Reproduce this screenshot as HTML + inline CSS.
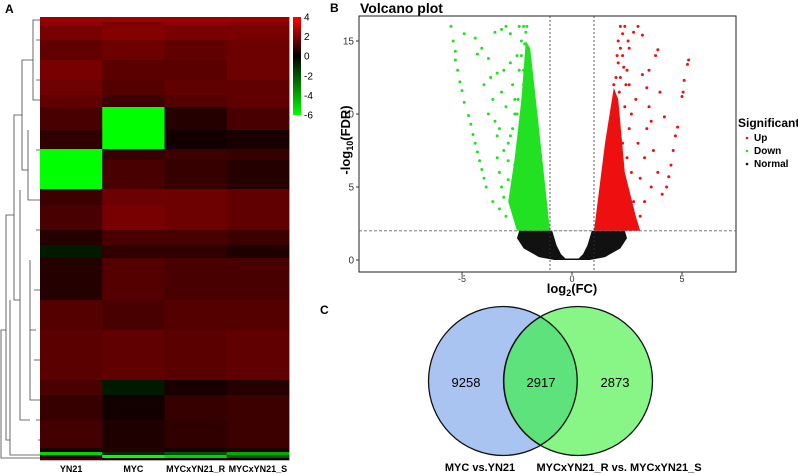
<!DOCTYPE html>
<html><head><meta charset="utf-8"><style>
body{margin:0;background:#fff;width:798px;height:475px;overflow:hidden;font-family:"Liberation Sans",Arial,sans-serif}
svg{display:block}
text{font-family:"Liberation Sans",Arial,sans-serif}
</style></head><body>
<svg id="fig" width="798" height="475" viewBox="0 0 798 475">
<g id="heat"></g>
<g id="dendro" stroke="#444" stroke-width="0.8" fill="none">
<path d="M40 20H33V100H40M33 60H22V170H28M28 130V200H40M22 115H14V300H20M20 190V420H30M30 260V400H40M30 330H36M14 215H6V440H10M10 300V455H40M6 330H1V458H40M36 40H40M36 80H40M36 150H40M36 230H40M34 290H40M34 360H40M36 420H40M38 440H40"/>
</g>
<g id="hlegend"></g>
<g id="volcano"></g>
<g id="venn">
<circle cx="503" cy="381" r="74.5" fill="#a9c4f0" stroke="#111" stroke-width="1.3"/>
<circle cx="578" cy="381" r="74.5" fill="#7ef57e" fill-opacity="0.93" stroke="#111" stroke-width="1.3"/>
<path d="M540.5 316.8 A74.5 74.5 0 0 1 540.5 445.2 A74.5 74.5 0 0 1 540.5 316.8Z" fill="#5ee37c" stroke="#111" stroke-width="1.3"/>
<text x="466" y="387" font-family="Liberation Serif" font-size="13" text-anchor="middle">9258</text>
<text x="541" y="387" font-family="Liberation Serif" font-size="13" text-anchor="middle">2917</text>
<text x="615" y="387" font-family="Liberation Serif" font-size="13" text-anchor="middle">2873</text>
<text x="480" y="471" font-size="11" font-weight="bold" text-anchor="middle">MYC vs.YN21</text>
<text x="619" y="471" font-size="11" font-weight="bold" text-anchor="middle">MYCxYN21_R vs. MYCxYN21_S</text>
</g>
<text x="5" y="13" font-size="12" font-weight="bold">A</text>
<text x="330" y="12" font-size="12" font-weight="bold">B</text>
<text x="320" y="314" font-size="12" font-weight="bold">C</text>
</svg>
<script>
// ---- Heatmap data ----
const heatColumns=["YN21","MYC","MYCxYN21_R","MYCxYN21_S"];
const heatRowEnds=[22,26,40,60,80,95,107,130,149,160,189,205,230,245,258,300,330,380,395,420,448,452,455,458,460];
const heatYN21=[2.6,2.4,2.0,1.6,2.0,1.8,1.6,1.2,0.8,-6,-6,1.0,1.2,0.6,-0.6,0.6,1.4,1.5,1.2,0.9,1.1,0.4,-5,0.6,1.0];
const heatMYC=[2.6,2.0,2.2,1.8,1.5,1.4,1.0,-6,-6,0.9,1.2,1.8,2.0,1.2,0.8,1.4,1.2,1.6,-0.6,0.3,0.5,0.6,-1,-6,0.4];
const heatR=[2.6,2.4,2.0,1.6,1.5,1.6,1.4,0.6,0.3,1.0,0.9,1.8,1.8,1.2,0.8,1.2,1.4,1.5,0.4,0.9,0.8,0.4,-2,-5,0.3];
const heatS=[2.6,2.2,2.0,1.8,1.8,1.6,1.6,1.2,0.4,0.9,0.6,1.6,1.6,1.0,0.5,1.2,1.4,1.6,0.6,1.0,1.0,0.5,-4,-2,0.3];
const legendTicks=[4,2,0,-2,-4,-6];
// ---- Volcano data ----
const xTicks=[-5,0,5];
const yTicks=[0,5,10,15];
const fcCut=[-1,1];
const fdrCut=2;
const downDense=[[-1,2],[-1.5,9],[-1.9,14.5],[-2.1,15],[-2.3,11],[-2.6,7],[-2.9,4],[-2.5,2]];
const upDense=[[1,2],[1.5,8],[1.9,11.8],[2.1,11],[2.4,6],[2.9,3],[3.1,2]];
const normalOuter=[[-2.4,2],[-2.5,1.5],[-2.2,0.8],[-1.5,0.2],[-0.8,0],[0.8,0],[1.5,0.2],[2.2,0.8],[2.5,1.5],[2.4,2]];
const normalHole=[[-0.9,2],[-0.7,1],[-0.5,0.4],[-0.3,0.1],[0.3,0.1],[0.5,0.4],[0.7,1],[0.9,2]];
const downX=[-5.5,-5.4,-5.3,-5.3,-5.2,-5.1,-5,-4.9,-4.7,-4.6,-4.5,-4.4,-4.3,-4.2,-4.1,-4,-3.9,-4.9,-4.4,-4.3,-4.1,-3.8,-3.7,-3.6,-3.5,-3.4,-3.4,-3.3,-3.2,-3.1,-3.5,-3.2,-3,-2.8,-3.6,-3.3,-3,-2.6,-2.7,-3.0,-2.9,-2.6,-3.8,-4.0,-3.1,-2.5,-2.4,-2.8,-2.7,-2.9,-3.2,-2.5,-2.6,-3.4,-2.3,-2.4,-2.2,-2.1,-2.3,-2.2,-2.6,-2.8,-3.1,-2.45,-2.35,-2.7,-2.2,-2.15,-2.9,-3.3,-2.55,-2.05];
const downY=[16,15,14.3,13.7,13,12.2,11.6,10.8,9.9,9.3,8.6,8,7.4,6.8,6.2,5.6,5,15.5,15.2,14.1,14.5,13.8,12.5,11,9.5,8.5,7,6,5,4.3,15.6,15.8,16,15.5,4,3.5,3,3.5,12,10.5,8,6.5,10,12,13,14,16,13.5,9,6.8,11.5,10,11,12.8,15,13,16,15.6,14,12,10,8.5,7.5,11,9.5,5,13,14.8,5.5,9,4.5,16];
const upX=[5.3,5.25,5.1,5.05,5,4.8,4.7,4.6,4.5,4.4,4.3,4.1,4.0,3.9,3.8,3.5,3.5,3.6,3.4,3.2,3.2,3.0,2.8,2.6,3.3,3.7,3.9,3.6,3.3,3.1,2.9,2.6,2.9,3.0,2.4,2.2,2.7,2.8,4.2,3.1,2.3,2.5,2.2,2.4,2.6,2.3,2.1,2.7,2.5,3.4,2.0,2.1,2.2,1.9,2.3,2.05,2.15,2.45,2.35,2.55];
const upY=[13.7,13.4,12.3,11.5,11.2,9.1,8.5,7.5,6.5,5.7,5,4.5,11.5,14.4,14,13,10.5,9.5,9,15.4,12.7,16,15.6,14.5,7,7.5,6,5,4,3,2.6,12,11,8,16,16,6,4,9.8,5.6,14,13,12.5,10.5,9,8,15,10,7,11.8,12.5,13.5,14.5,12,15.5,14,11.5,12,13.2,15];

const NS="http://www.w3.org/2000/svg";
function mk(tag,attrs,parent){const e=document.createElementNS(NS,tag);for(const k in attrs)e.setAttribute(k,attrs[k]);parent.appendChild(e);return e;}
function heatColor(v){if(v>=0){const r=Math.round(Math.min(255,255*v/4*0.95));return `rgb(${r},0,0)`;}const g=Math.round(Math.min(255,255*(-v)/6));return `rgb(0,${g},0)`;}

// Heatmap
const hx0=40,hx1=289,hy0=17;
const hcolX=i=>hx0+(hx1-hx0)*i/4;
const heat=document.getElementById('heat');
const cols=[heatYN21,heatMYC,heatR,heatS];
cols.forEach((arr,ci)=>{
  let prev=hy0;
  arr.forEach((v,ri)=>{
    const y1=heatRowEnds[ri];
    const r=mk('rect',{x:hcolX(ci),y:prev,width:hcolX(ci+1)-hcolX(ci)+0.4,height:y1-prev+0.3,fill:heatColor(v)},heat);
    
    
    prev=y1;
  });
});
heatColumns.forEach((c,ci)=>{
  const t=mk('text',{x:(hcolX(ci)+hcolX(ci+1))/2,y:472,'font-size':9,'font-weight':'bold','text-anchor':'middle'},heat);
  t.textContent=c;
  
  
});
// Legend
const hl=document.getElementById('hlegend');
const lgY=v=>17+(4-v)/10*98;
const defs=mk('defs',{},hl);
const grad=mk('linearGradient',{id:'lg',x1:0,y1:0,x2:0,y2:1},defs);
[[0,'#ff0000'],[0.4,'#000000'],[1,'#00ff00']].forEach(s=>mk('stop',{offset:s[0],'stop-color':s[1]},grad));
const lb=mk('rect',{x:293,y:17,width:8,height:98,fill:'url(#lg)'},hl);


legendTicks.forEach(v=>{
  const t=mk('text',{x:304,y:lgY(v)+3.5,'font-size':10},hl);
  t.textContent=v;
  
  
});

// Volcano
const vx0=359,vx1=736,vy0=16,vy1=272;
const X=v=>572+22*v, Y=v=>260-14.6*v;
const vo=document.getElementById('volcano');
const title=mk('text',{x:360,y:13,'font-size':14,'font-weight':'bold'},vo);
title.textContent='Volcano plot';


const frame=mk('rect',{x:vx0,y:vy0,width:vx1-vx0,height:vy1-vy0,fill:'#fff',stroke:'#222','stroke-width':1},vo);


const pts=a=>a.map(p=>X(p[0])+','+Y(p[1])).join(' ');
const pd=mk('polygon',{points:pts(downDense),fill:'#22e022'},vo);


const pu=mk('polygon',{points:pts(upDense),fill:'#ee1010'},vo);


const pn=mk('polygon',{points:pts(normalOuter),fill:'#111'},vo);


const ph=mk('polygon',{points:pts(normalHole),fill:'#fff'},vo);


downX.forEach((x,i)=>{
  const c=mk('circle',{cx:X(x),cy:Y(downY[i]),r:1.5,fill:'#22e022'},vo);
  
  
});
upX.forEach((x,i)=>{
  const c=mk('circle',{cx:X(x),cy:Y(upY[i]),r:1.5,fill:'#ee1010'},vo);
  
  
});
fcCut.forEach(v=>{
  const l=mk('line',{x1:X(v),x2:X(v),y1:vy0,y2:vy1,stroke:'#333','stroke-dasharray':'2,2','stroke-width':0.8},vo);
  
  
});
const hl2=mk('line',{x1:vx0,x2:vx1,y1:Y(fdrCut),y2:Y(fdrCut),stroke:'#666','stroke-dasharray':'3,2','stroke-width':0.8},vo);


xTicks.forEach(v=>{
  mk('line',{x1:X(v),x2:X(v),y1:vy1,y2:vy1+3,stroke:'#333'},vo);
  const t=mk('text',{x:X(v),y:vy1+10,'font-size':9,'text-anchor':'middle',fill:'#333'},vo);
  t.textContent=v;
  
  
});
yTicks.forEach(v=>{
  mk('line',{x1:vx0-3,x2:vx0,y1:Y(v),y2:Y(v),stroke:'#333'},vo);
  const t=mk('text',{x:vx0-5,y:Y(v)+3.5,'font-size':10,'text-anchor':'end',fill:'#333'},vo);
  t.textContent=v;
  
  
});
const xt=mk('text',{x:572,y:293,'font-size':13,'font-weight':'bold','text-anchor':'middle'},vo);
xt.innerHTML='log<tspan font-size="9" dy="3">2</tspan><tspan dy="-3">(FC)</tspan>';


const yt=mk('text',{x:0,y:0,'font-size':13,'font-weight':'bold','text-anchor':'middle',transform:'translate(350,140) rotate(-90)'},vo);
yt.innerHTML='-log<tspan font-size="9" dy="3">10</tspan><tspan dy="-3">(FDR)</tspan>';


const lt=mk('text',{x:738,y:127,'font-size':12,'font-weight':'bold'},vo);
lt.textContent='Significant';


[['Up','#ee1010',141],['Down','#22e022',154],['Normal','#111',167]].forEach(e=>{
  mk('circle',{cx:747,cy:e[2]-3,r:1.3,fill:e[1]},vo);
  const t=mk('text',{x:754,y:e[2],'font-size':10,'font-weight':'bold'},vo);
  t.textContent=e[0];
  
  
});
</script>
</body></html>
